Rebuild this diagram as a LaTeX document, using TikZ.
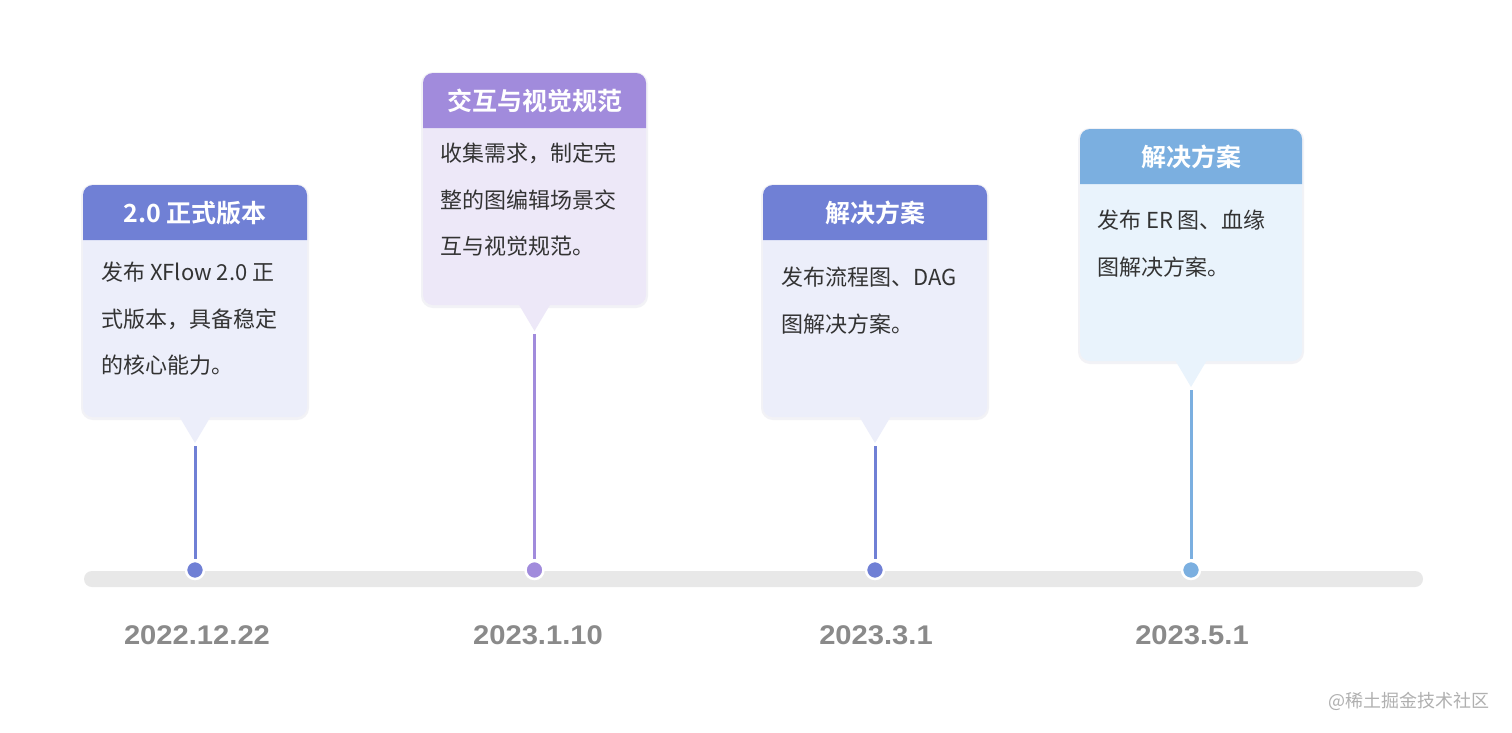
\documentclass[tikz,border=0pt]{standalone}
\usepackage{fontspec}
\setmainfont{Noto Sans CJK SC}[BoldFont={Noto Sans CJK SC Bold}]
\newfontfamily\datefont{Liberation Sans}[FakeStretch=1.08]
\definecolor{hblue}{HTML}{7080D5}
\definecolor{hpurple}{HTML}{A18BDC}
\definecolor{hsky}{HTML}{7BAFE0}
\definecolor{bblue}{HTML}{ECEEFA}
\definecolor{bpurple}{HTML}{EDE8F8}
\definecolor{bsky}{HTML}{E9F3FC}
\definecolor{barcol}{HTML}{E8E8E8}
\definecolor{datecol}{HTML}{8A8A8A}
\definecolor{txtcol}{HTML}{333333}
\definecolor{wmcol}{HTML}{B0B0B0}
\definecolor{shadowcol}{HTML}{F2F2F6}
\newcommand\drawcard[9]{%
  % #1 name, #2 x1, #3 x2, #4 top, #5 header bottom, #6 body bottom, #7 head colour, #8 body colour, #9 title
  \fill[shadowcol, rounded corners=12pt] ({#2-2},{#4-1}) rectangle ({#3+2},{#6+3});
  \fill[#8, rounded corners=10pt] (#2,#4) rectangle (#3,#6);
  \fill[#8] ({(#2+#3)/2-16},{#6-1}) -- ({(#2+#3)/2+16},{#6-1}) -- ({(#2+#3)/2},{#6+26}) -- cycle;
  \fill[#7] (#2,#5) {[rounded corners=10pt] -- (#2,#4) -- (#3,#4)} -- (#3,#5) -- cycle;
  \node[cardtitle] (#1title) at ({(#2+#3)/2},{(#4+#5)/2+9.5}) {#9};
  \coordinate (#1tip) at ({(#2+#3)/2},{#6+29});
}
\begin{document}
\begin{tikzpicture}[x=1pt,y=-1pt,
  cardtitle/.style={anchor=base, inner sep=0pt, text=white, font=\fontsize{25}{30}\selectfont\bfseries},
  bodytxt/.style={anchor=base west, inner sep=0pt, text=txtcol, font=\fontsize{22}{26}\selectfont},
  datelbl/.style={anchor=base, inner sep=0pt, text=datecol, font=\datefont\fontsize{27}{30}\selectfont\bfseries},
  tldot/.style={circle, draw=white, line width=2.5pt, minimum size=18pt, inner sep=0pt},
  stem/.style={line width=3pt, shorten >=1pt}
]
\useasboundingbox[fill=white] (0,0) rectangle (1512,732);

% timeline bar
\fill[barcol, rounded corners=8pt] (84,571) rectangle (1423,587);

% cards
\drawcard{a}{83}{307}{185}{240}{417}{hblue}{bblue}{2.0 正式版本}
\drawcard{b}{423}{646}{73}{128}{305}{hpurple}{bpurple}{交互与视觉规范}
\drawcard{c}{763}{987}{185}{240}{417}{hblue}{bblue}{解决方案}
\drawcard{d}{1080}{1302}{129}{184}{361}{hsky}{bsky}{解决方案}

% body texts
\node[bodytxt] (a1) at (101,280.5) {发布 XFlow 2.0 正};
\node[bodytxt] (a2) at (101,327) {式版本，具备稳定};
\node[bodytxt] (a3) at (101,373.5) {的核心能力。};

\node[bodytxt] (b1) at (440,161.5) {收集需求，制定完};
\node[bodytxt] (b2) at (440,208) {整的图编辑场景交};
\node[bodytxt] (b3) at (440,254.5) {互与视觉规范。};

\node[bodytxt] (c1) at (781,285.5) {发布流程图、DAG};
\node[bodytxt] (c2) at (781,332) {图解决方案。};

\node[bodytxt] (d1) at (1097,228.5) {发布 ER 图、血缘};
\node[bodytxt] (d2) at (1097,275) {图解决方案。};

% dots
\node[tldot, fill=hblue] (dota) at (195,570) {};
\node[tldot, fill=hpurple] (dotb) at (534.5,570) {};
\node[tldot, fill=hblue] (dotc) at (875,570) {};
\node[tldot, fill=hsky] (dotd) at (1191,570) {};

% stems
\draw[stem, hblue] (atip) -- (dota);
\draw[stem, hpurple] (btip) -- (dotb);
\draw[stem, hblue] (ctip) -- (dotc);
\draw[stem, hsky] (dtip) -- (dotd);

% dates
\node[datelbl] (datea) at (197,644) {2022.12.22};
\node[datelbl] (dateb) at (538,644) {2023.1.10};
\node[datelbl] (datec) at (876,644) {2023.3.1};
\node[datelbl] (dated) at (1192,644) {2023.5.1};

% watermark
\node[anchor=base east, inner sep=0pt, text=wmcol, font=\fontsize{18}{22}\selectfont] (wm) at (1490,707) {@稀土掘金技术社区};
\end{tikzpicture}
\end{document}
